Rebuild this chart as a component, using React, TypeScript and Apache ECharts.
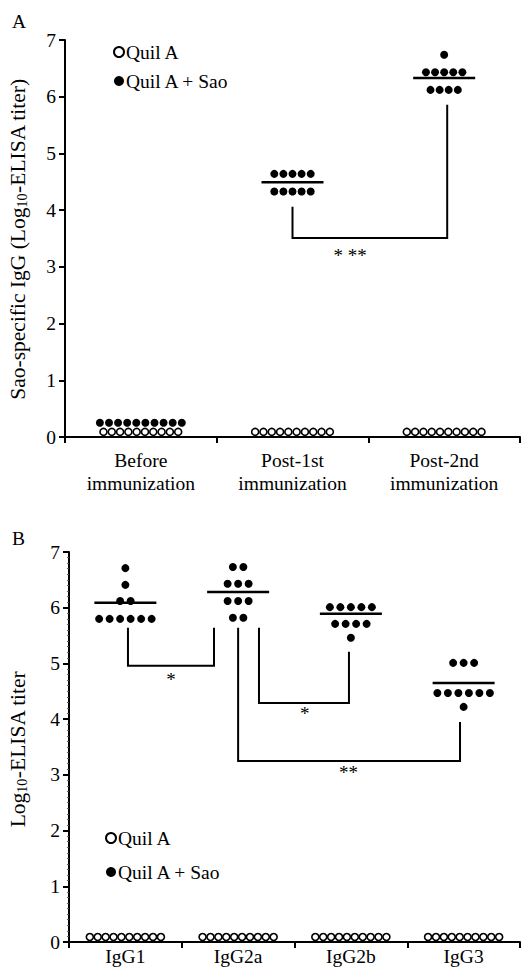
import React, { useEffect, useRef } from 'react';
import * as echarts from 'echarts';

const FONT = '"Liberation Serif", "Times New Roman", serif';

// ---------- Panel A data ----------
const categoriesA = ['Before\nimmunization', 'Post-1st\nimmunization', 'Post-2nd\nimmunization'];
const quilA_A: number[][] = [
  [0.09, 0.09, 0.09, 0.09, 0.09, 0.09, 0.09, 0.09, 0.09, 0.09],
  [0.09, 0.09, 0.09, 0.09, 0.09, 0.09, 0.09, 0.09, 0.09, 0.09],
  [0.09, 0.09, 0.09, 0.09, 0.09, 0.09, 0.09, 0.09, 0.09, 0.09],
];
const quilASao_A: number[][] = [
  [0.25, 0.25, 0.25, 0.25, 0.25, 0.25, 0.25, 0.25, 0.25, 0.25],
  [4.64, 4.64, 4.64, 4.64, 4.64, 4.33, 4.33, 4.33, 4.33, 4.33],
  [6.74, 6.43, 6.43, 6.43, 6.43, 6.43, 6.12, 6.12, 6.12, 6.12],
];
const meansA: (number | null)[] = [null, 4.49, 6.33];
// bracket: [xLeft, topLeft, bottom, xRight, topRight]
const bracketsA: number[][] = [[1.5, 4.06, 3.51, 2.52, 5.86]];
const bracketLabelsA = ['* **'];
const bracketLabelPosA: number[][] = [[1.88, 3.2]];

// ---------- Panel B data ----------
const categoriesB = ['IgG1', 'IgG2a', 'IgG2b', 'IgG3'];
const quilA_B: number[][] = [
  [0.09, 0.09, 0.09, 0.09, 0.09, 0.09, 0.09, 0.09, 0.09, 0.09],
  [0.09, 0.09, 0.09, 0.09, 0.09, 0.09, 0.09, 0.09, 0.09, 0.09],
  [0.09, 0.09, 0.09, 0.09, 0.09, 0.09, 0.09, 0.09, 0.09, 0.09],
  [0.09, 0.09, 0.09, 0.09, 0.09, 0.09, 0.09, 0.09, 0.09, 0.09],
];
const quilASao_B: number[][] = [
  [6.71, 6.41, 6.12, 6.12, 5.8, 5.8, 5.8, 5.8, 5.8, 5.8],
  [6.73, 6.73, 6.43, 6.43, 6.43, 6.12, 6.12, 6.12, 5.82, 5.82],
  [6.01, 6.01, 6.01, 6.01, 6.01, 5.71, 5.71, 5.71, 5.71, 5.46],
  [5.01, 5.01, 5.01, 4.47, 4.47, 4.47, 4.47, 4.47, 4.47, 4.22],
];
const meansB: (number | null)[] = [6.09, 6.28, 5.89, 4.65];
const bracketsB: number[][] = [
  [0.523, 5.64, 4.96, 1.286, 5.64],
  [1.685, 5.64, 4.29, 2.483, 5.21],
  [1.5, 5.64, 3.25, 3.468, 3.95],
];
const bracketLabelsB = ['*', '*', '**'];
const bracketLabelPosB: number[][] = [[0.905, 4.72], [2.09, 4.1], [2.48, 3.05]];

const yTicks = [0, 7];

// grid geometry
const GRID_A = { left: 65, top: 40, width: 455, height: 397 };
const GRID_B = { left: 69, top: 552, width: 451, height: 390 };
const LABEL_SIZE = 19.5;
const NAME_SIZE = 21.5;

// beeswarm-like row layout: equal values form a centred horizontal row
function rowLayout(groups: number[][], spacingPx: number, pxPerUnit: number) {
  const pts: number[][] = [];
  const sp = spacingPx / pxPerUnit;
  groups.forEach((values, ci) => {
    const center = ci + 0.5;
    let i = 0;
    while (i < values.length) {
      let j = i;
      while (j < values.length && values[j] === values[i]) j++;
      const n = j - i;
      for (let k = 0; k < n; k++) pts.push([center + (k - (n - 1) / 2) * sp, values[i]]);
      i = j;
    }
  });
  return pts;
}

function meanData(means: (number | null)[]) {
  const out: number[][] = [];
  means.forEach((m, i) => {
    if (m !== null) out.push([i + 0.5, m]);
  });
  return out;
}

const openStyle = { color: '#fff', borderColor: '#000', borderWidth: 1.6, opacity: 1 };
const filledStyle = { color: '#000', opacity: 1 };

function meanSeries(xAxisIndex: number, yAxisIndex: number, data: number[][], halfPx: number) {
  return {
    type: 'custom',
    xAxisIndex,
    yAxisIndex,
    silent: true,
    encode: { x: 0, y: 1 },
    data,
    renderItem: (params: any, api: any) => {
      const p = api.coord([api.value(0), api.value(1)]);
      return {
        type: 'line',
        shape: { x1: p[0] - halfPx, y1: p[1], x2: p[0] + halfPx, y2: p[1] },
        style: { stroke: '#000', lineWidth: 2.5 },
      };
    },
  };
}

function bracketSeries(xAxisIndex: number, yAxisIndex: number, data: number[][]) {
  return {
    type: 'custom',
    xAxisIndex,
    yAxisIndex,
    silent: true,
    encode: { x: [0, 3], y: [1, 2, 4] },
    data,
    renderItem: (params: any, api: any) => {
      const a = api.coord([api.value(0), api.value(1)]);
      const b = api.coord([api.value(0), api.value(2)]);
      const c = api.coord([api.value(3), api.value(2)]);
      const d = api.coord([api.value(3), api.value(4)]);
      return {
        type: 'polyline',
        shape: { points: [a, b, c, d] },
        style: { stroke: '#000', lineWidth: 2, fill: null },
      };
    },
  };
}

function labelSeries(xAxisIndex: number, yAxisIndex: number, pos: number[][], labels: string[]) {
  return {
    type: 'custom',
    xAxisIndex,
    yAxisIndex,
    silent: true,
    encode: { x: 0, y: 1 },
    data: pos.map((p, i) => [p[0], p[1], i]),
    renderItem: (params: any, api: any) => {
      const p = api.coord([api.value(0), api.value(1)]);
      return {
        type: 'text',
        x: p[0],
        y: p[1],
        style: {
          text: labels[api.value(2)],
          fontFamily: FONT,
          fontSize: 19,
          fill: '#000',
          align: 'center',
          verticalAlign: 'middle',
        },
      };
    },
  };
}

function yAxisCfg(gridIndex: number, minor: boolean) {
  return {
    type: 'value',
    gridIndex,
    min: yTicks[0],
    max: yTicks[1],
    interval: 1,
    axisLine: { show: true, lineStyle: { color: '#000', width: 2 } },
    axisTick: { show: true, length: 6, lineStyle: { color: '#000', width: 2 } },
    minorTick: minor ? { show: true, splitNumber: 10, length: 2, lineStyle: { color: '#555', width: 1 } } : { show: false },
    splitLine: { show: false },
    axisLabel: { color: '#000', fontFamily: FONT, fontSize: LABEL_SIZE, margin: 9 },
  };
}

function catAxisCfg(gridIndex: number, data: string[], margin: number) {
  return {
    type: 'category',
    gridIndex,
    data,
    boundaryGap: true,
    position: 'bottom',
    axisLine: { show: true, lineStyle: { color: '#000', width: 2 } },
    axisTick: { show: true, length: 6, lineStyle: { color: '#000', width: 2 } },
    splitLine: { show: false },
    axisLabel: { color: '#000', fontFamily: FONT, fontSize: LABEL_SIZE, margin, lineHeight: 23, interval: 0 },
  };
}

export default function App() {
  const ref = useRef<HTMLDivElement>(null);
  useEffect(() => {
    if (!ref.current) return;
    const chart = echarts.init(ref.current, undefined, { renderer: 'svg' });
    const pxA = GRID_A.width / categoriesA.length;
    const pxB = GRID_B.width / categoriesB.length;
    const legendCommon = {
      orient: 'vertical',
      itemWidth: 10,
      itemHeight: 10,
      selectedMode: false,
      textStyle: { color: '#000', fontFamily: FONT, fontSize: LABEL_SIZE, padding: [0, 0, 0, -3] },
      data: [
        { name: 'Quil A', icon: 'circle', itemStyle: { color: '#fff', borderColor: '#000', borderWidth: 2, opacity: 1 } },
        { name: 'Quil A + Sao', icon: 'circle', itemStyle: { color: '#000', opacity: 1 } },
      ],
    };
    const option: any = {
      animation: false,
      backgroundColor: '#fff',
      grid: [
        { ...GRID_A, containLabel: false },
        { ...GRID_B, containLabel: false },
      ],
      xAxis: [
        { type: 'value', gridIndex: 0, min: 0, max: categoriesA.length, show: false },
        catAxisCfg(0, categoriesA, 12),
        { type: 'value', gridIndex: 1, min: 0, max: categoriesB.length, show: false },
        catAxisCfg(1, categoriesB, 3),
      ],
      yAxis: [yAxisCfg(0, false), yAxisCfg(1, true)],
      legend: [
        { ...legendCommon, left: 108, top: 37, itemGap: 9 },
        { ...legendCommon, left: 100, top: 823, itemGap: 14 },
      ],
      graphic: [
        { type: 'text', left: 12, top: 11, style: { text: 'A', fontFamily: FONT, fontSize: LABEL_SIZE, fill: '#000' } },
        { type: 'text', left: 12, top: 528, style: { text: 'B', fontFamily: FONT, fontSize: LABEL_SIZE, fill: '#000' } },
        {
          type: 'text',
          x: 18,
          y: 239,
          rotation: Math.PI / 2,
          style: {
            text: 'Sao-specific IgG (Log{sub|10}-ELISA titer)',
            fontFamily: FONT,
            fontSize: NAME_SIZE,
            fill: '#000',
            align: 'center',
            verticalAlign: 'middle',
            rich: { sub: { fontFamily: FONT, fontSize: 14, fill: '#000', verticalAlign: 'bottom', padding: [9, 0, 0, 0] } },
          },
        },
        {
          type: 'text',
          x: 18,
          y: 749,
          rotation: Math.PI / 2,
          style: {
            text: 'Log{sub|10}-ELISA titer',
            fontFamily: FONT,
            fontSize: NAME_SIZE,
            fill: '#000',
            align: 'center',
            verticalAlign: 'middle',
            rich: { sub: { fontFamily: FONT, fontSize: 14, fill: '#000', verticalAlign: 'bottom', padding: [9, 0, 0, 0] } },
          },
        },
      ],
      series: [
        // Panel A
        {
          name: 'Quil A', type: 'scatter', xAxisIndex: 0, yAxisIndex: 0, symbol: 'circle', symbolSize: 7,
          itemStyle: openStyle, data: rowLayout(quilA_A, 8.3, pxA), z: 3,
        },
        {
          name: 'Quil A + Sao', type: 'scatter', xAxisIndex: 0, yAxisIndex: 0, symbol: 'circle', symbolSize: 8,
          itemStyle: filledStyle, data: rowLayout(quilASao_A, 9.1, pxA), z: 3,
        },
        meanSeries(0, 0, meanData(meansA), 31),
        bracketSeries(0, 0, bracketsA),
        labelSeries(0, 0, bracketLabelPosA, bracketLabelsA),
        // Panel B
        {
          name: 'Quil A', type: 'scatter', xAxisIndex: 2, yAxisIndex: 1, symbol: 'circle', symbolSize: 7,
          itemStyle: openStyle, data: rowLayout(quilA_B, 7.9, pxB), z: 3,
        },
        {
          name: 'Quil A + Sao', type: 'scatter', xAxisIndex: 2, yAxisIndex: 1, symbol: 'circle', symbolSize: 8,
          itemStyle: filledStyle, data: rowLayout(quilASao_B, 10.5, pxB), z: 3,
        },
        meanSeries(2, 1, meanData(meansB), 31),
        bracketSeries(2, 1, bracketsB),
        labelSeries(2, 1, bracketLabelPosB, bracketLabelsB),
      ],
    };
    chart.setOption(option);
    return () => chart.dispose();
  }, []);
  return (
    <div
      ref={ref}
      style={{ position: 'absolute', left: 0, top: 0, width: 522, height: 968, background: '#fff' }}
    />
  );
}
